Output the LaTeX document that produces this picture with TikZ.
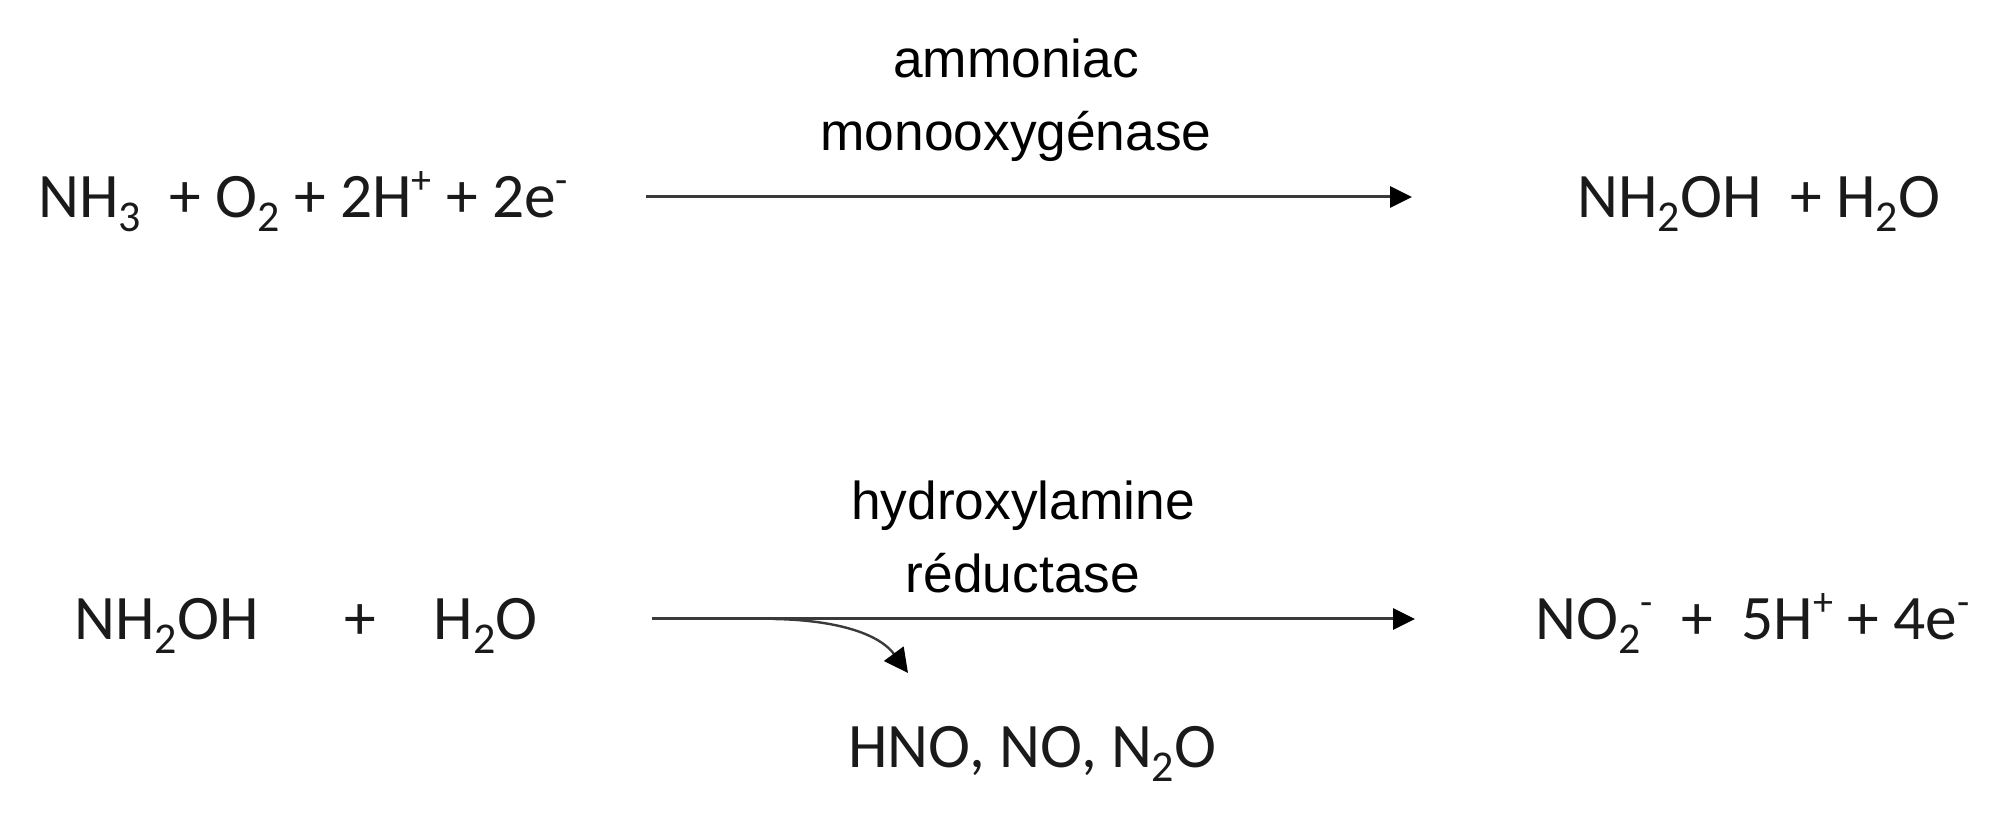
\documentclass[tikz,border=0pt]{standalone}
\usepackage{fontspec}
\setmainfont{Carlito}
\newfontfamily\labelfont{Liberation Sans}
\usetikzlibrary{arrows.meta}
\newcommand{\chemsub}[1]{\raisebox{-0.22em}{\fontsize{22}{22}\selectfont #1}}
\newcommand{\chemsup}[1]{\raisebox{0.38em}{\fontsize{20}{20}\selectfont #1}}
\definecolor{ink}{HTML}{1A1A1A}
\definecolor{linecol}{HTML}{3A3A3A}
\tikzset{
  chem/.style={inner sep=0pt,text=ink,font=\fontsize{31.7}{32}\selectfont,text height=30.8pt,text depth=10pt,anchor=west},
  enzyme/.style={inner sep=0pt,text=black,align=center,font=\labelfont\fontsize{26.65}{36.5}\selectfont},
  rxn/.style={draw=linecol,line width=1.5pt,-{Triangle[length=11pt,width=10.5pt,color=black]}},
  side/.style={draw=linecol,line width=1.2pt,-{Triangle[length=12pt,width=12pt,color=black]}}
}
\begin{document}
\begin{tikzpicture}[x=0.5pt,y=-0.5pt]
\useasboundingbox (0,0) rectangle (1992,822);
\node[chem] (r1) at (38,197) {NH\chemsub{3}\ \ + O\chemsub{2} + 2H\chemsup{+} + 2e\chemsup{-}};
\node[chem] (p1) at (1577,197) {NH\chemsub{2}OH\ \ + H\chemsub{2}O};
\node[chem] (r2) at (74,619) {NH\chemsub{2}OH\ \ \ \ \ \ +\ \ \ \ H\chemsub{2}O};
\node[chem] (p2) at (1535,619) {NO\chemsub{2}\chemsup{-}\ \ +\ \ 5H\chemsup{+} + 4e\chemsup{-}};
\node[chem] (s2) at (848,747) {HNO, NO, N\chemsub{2}O};
\node[enzyme] (e1) at (1016,100) {ammoniac\\monooxygénase};
\node[enzyme] (e2) at (1023,537) {hydroxylamine\\réductase};
\draw[rxn,shorten <=39pt,shorten >=82.5pt] (r1.east) -- (p1.west);
\draw[rxn,shorten <=57pt,shorten >=60pt] (r2.east) -- (p2.west);
\coordinate (b0) at (773,619);
\coordinate (b1) at (908,673);
\draw[side] (b0) .. controls (840,620) and (880,635) .. (b1);
\end{tikzpicture}
\end{document}
